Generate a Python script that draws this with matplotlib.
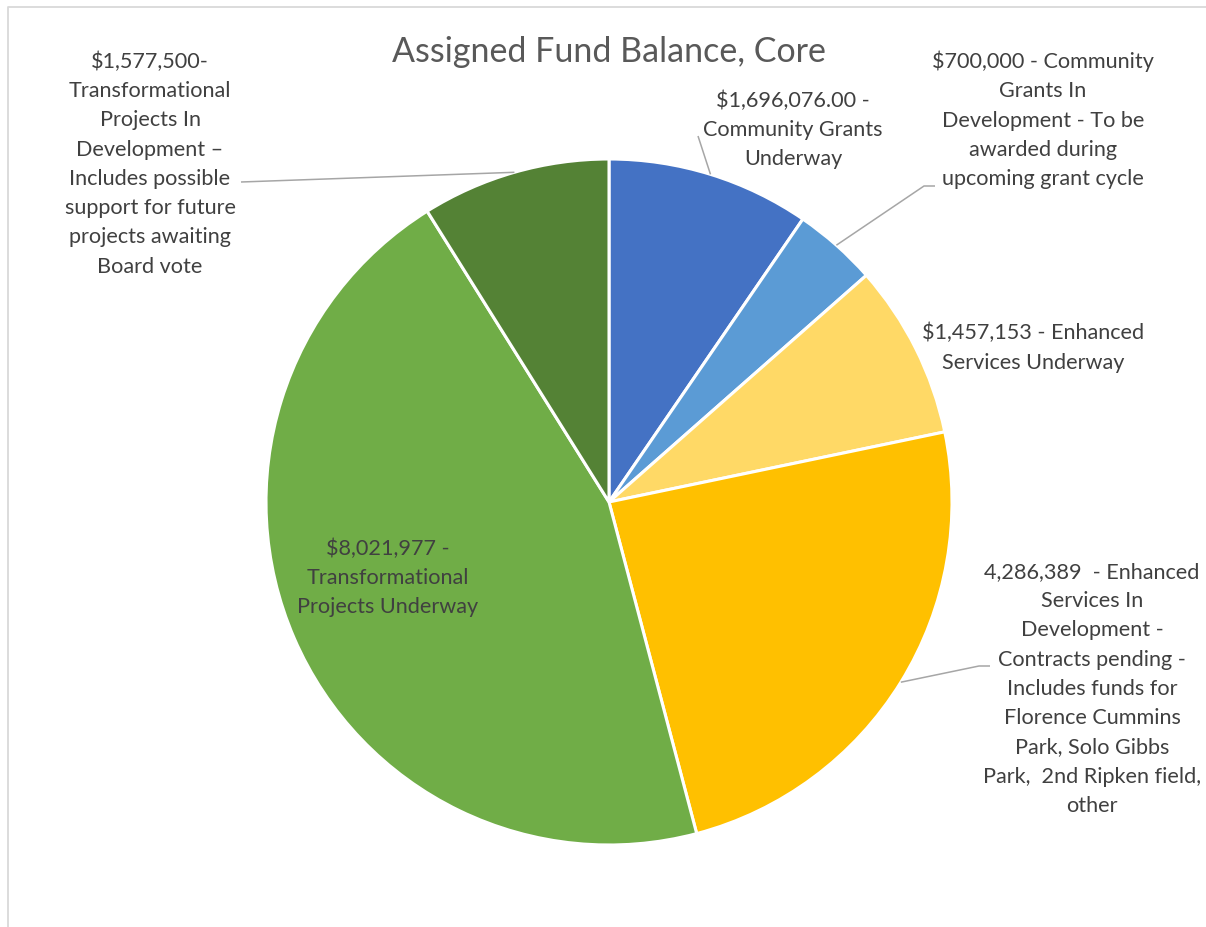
"""
pie chart: assigned fund balance, core
"""
import matplotlib.pyplot as plt
import numpy as np

plt.rcParams['font.family'] = ['Lato', 'DejaVu Sans']

# slice values, clockwise from 12 o'clock
values = [1696076.00, 700000, 1457153, 4286389, 8021977, 1577500]
labels = [
    "\\$1,696,076.00 -\nCommunity Grants\nUnderway",
    "\\$700,000 - Community\nGrants In\nDevelopment - To be\nawarded during\nupcoming grant cycle",
    "\\$1,457,153 - Enhanced\nServices Underway",
    "4,286,389  - Enhanced\nServices In\nDevelopment -\nContracts pending -\nIncludes funds for\nFlorence Cummins\nPark, Solo Gibbs\nPark,  2nd Ripken field,\nother",
    "\\$8,021,977 -\nTransformational\nProjects Underway",
    "\\$1,577,500-\nTransformational\nProjects In\nDevelopment \u2013\nIncludes possible\nsupport for future\nprojects awaiting\nBoard vote",
]
colors = ['#4472C4', '#5B9BD5', '#FFD966', '#FFC000', '#70AD47', '#548235']

# label centre positions (pixel coords, y up) and leader elbow points
label_xy = [(793, 798), (1043, 808), (1033, 580), (1092, 239), (388, 350), (150, 764)]
leader_end = [(698, 791), (924, 741), None, (979, 261), None, (241, 745)]
leader_tail = [None, (935, 741), None, (990, 261), None, None]

W, H = 1206, 928
cx, cy, r = 609, 425, 343

fig = plt.figure(figsize=(W / 100, H / 100), dpi=100)
ax = fig.add_axes([0, 0, 1, 1])

wedges, _ = ax.pie(values, colors=colors, startangle=90, counterclock=False,
                   center=(cx, cy), radius=r, frame=True,
                   wedgeprops=dict(edgecolor='white', linewidth=2.2))
ax.set_xlim(0, W)
ax.set_ylim(0, H)
ax.axis('off')

for i, w in enumerate(wedges):
    tx, ty = label_xy[i]
    ax.text(tx, ty, labels[i], ha='center', va='center', fontsize=15.6,
            color='#404040', linespacing=1.58)
    if leader_end[i] is not None:
        mid = np.deg2rad((w.theta1 + w.theta2) / 2)
        sx, sy = cx + r * np.cos(mid), cy + r * np.sin(mid)
        ex, ey = leader_end[i]
        xs, ys = [sx, ex], [sy, ey]
        if leader_tail[i] is not None:
            xs.append(leader_tail[i][0])
            ys.append(leader_tail[i][1])
        ax.plot(xs, ys, color='#A6A6A6', linewidth=1.1, solid_capstyle='butt')

# title
ax.text(609, 876, "Assigned Fund Balance, Core", ha='center', va='center',
        fontsize=24.5, color='#595959')

# chart area border (cut off at right and bottom)
ax.plot([7.5, 7.5, W + 5], [-5, 920.5, 920.5], color='#D9D9D9', linewidth=1.3)

fig.savefig("out.png", dpi=100)
